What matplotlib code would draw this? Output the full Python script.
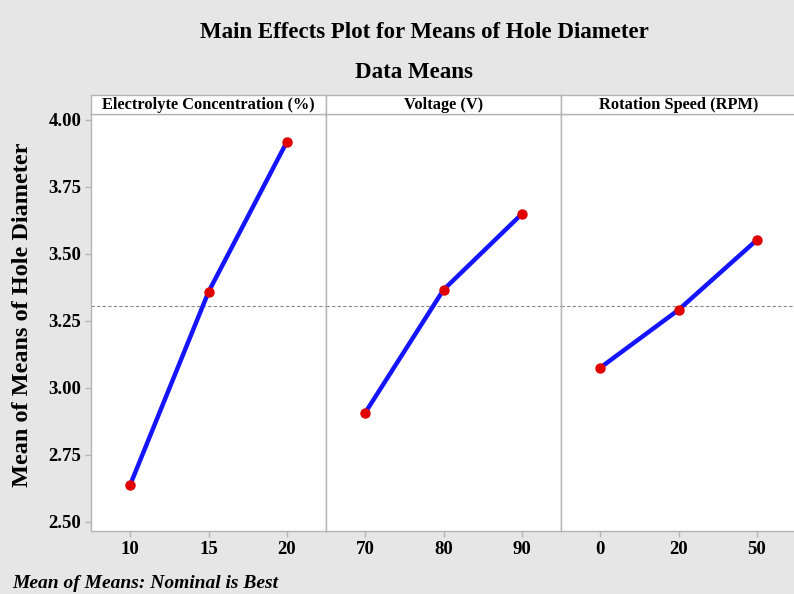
import matplotlib
matplotlib.use('Agg')
import matplotlib.pyplot as plt

# Data
factors = ['Electrolyte Concentration (%)', 'Voltage (V)', 'Rotation Speed (RPM)']
levels = [['10', '15', '20'], ['70', '80', '90'], ['0', '20', '50']]
electrolyte_means = [2.638, 3.358, 3.918]
voltage_means = [2.907, 3.366, 3.649]
rotation_means = [3.075, 3.291, 3.552]
grand_mean = 3.306
yticks = [2.50, 2.75, 3.00, 3.25, 3.50, 3.75, 4.00]

means = [electrolyte_means, voltage_means, rotation_means]

bg = '#e6e6e6'
edge = '#b4b4b4'
plt.rcParams['font.family'] = ['Liberation Serif', 'DejaVu Serif']

fig = plt.figure(figsize=(7.94, 5.94), dpi=100, facecolor=bg)

W, H = 794, 594
left, pw = 91, 235
top, bottom, head = 114, 531, 19

for i, (name, lv, vals) in enumerate(zip(factors, levels, means)):
    x0 = left + i * pw
    ax = fig.add_axes([x0 / W, (H - bottom) / H, pw / W, (bottom - top) / H])
    ax.set_facecolor('white')
    xs = list(range(len(lv)))
    ax.axhline(grand_mean, color='#888888', linestyle=(0, (3, 2)), linewidth=0.8, zorder=1)
    ax.plot(xs, vals, color='#1414ff', linewidth=3.2, zorder=2)
    ax.plot(xs, vals, 'o', color='#e00000', markersize=6.5, zorder=3)
    ax.set_xlim(-0.5, 2.5)
    ax.set_ylim(2.466, 4.022)
    ax.set_xticks(xs)
    ax.set_xticklabels(lv, fontsize=13.5, fontweight='bold')
    ax.set_yticks(yticks)
    if i == 0:
        ax.set_yticklabels([f'{t:.2f}' for t in yticks], fontsize=13.5, fontweight='bold')
    else:
        ax.tick_params(axis='y', left=False, labelleft=False)
    ax.tick_params(axis='both', color=edge, length=4, width=1, pad=3)
    for s in ax.spines.values():
        s.set_color(edge)
        s.set_linewidth(1)

    # header strip
    hx = fig.add_axes([x0 / W, (H - top) / H, pw / W, head / H])
    hx.set_facecolor('white')
    hx.set_xticks([])
    hx.set_yticks([])
    for s in hx.spines.values():
        s.set_color(edge)
        s.set_linewidth(1)
    hx.text(0.5, 0.45, name, ha='center', va='center', fontsize=11.8,
            fontweight='bold', transform=hx.transAxes)

fig.text(424 / W, 1 - 33 / H, 'Main Effects Plot for Means of Hole Diameter',
         ha='center', va='center', fontsize=16.5, fontweight='bold')
fig.text(414 / W, 1 - 72 / H, 'Data Means',
         ha='center', va='center', fontsize=16.5, fontweight='bold')
fig.text(23 / W, 1 - 315 / H, 'Mean of Means of Hole Diameter', rotation=90,
         ha='center', va='center', fontsize=17.5, fontweight='bold')
fig.text(12 / W, 1 - 583 / H, 'Mean of Means: Nominal is Best',
         ha='left', va='center', fontsize=14, fontweight='bold', style='italic')

plt.savefig('out.png', dpi=100, facecolor=bg)
plt.close()
